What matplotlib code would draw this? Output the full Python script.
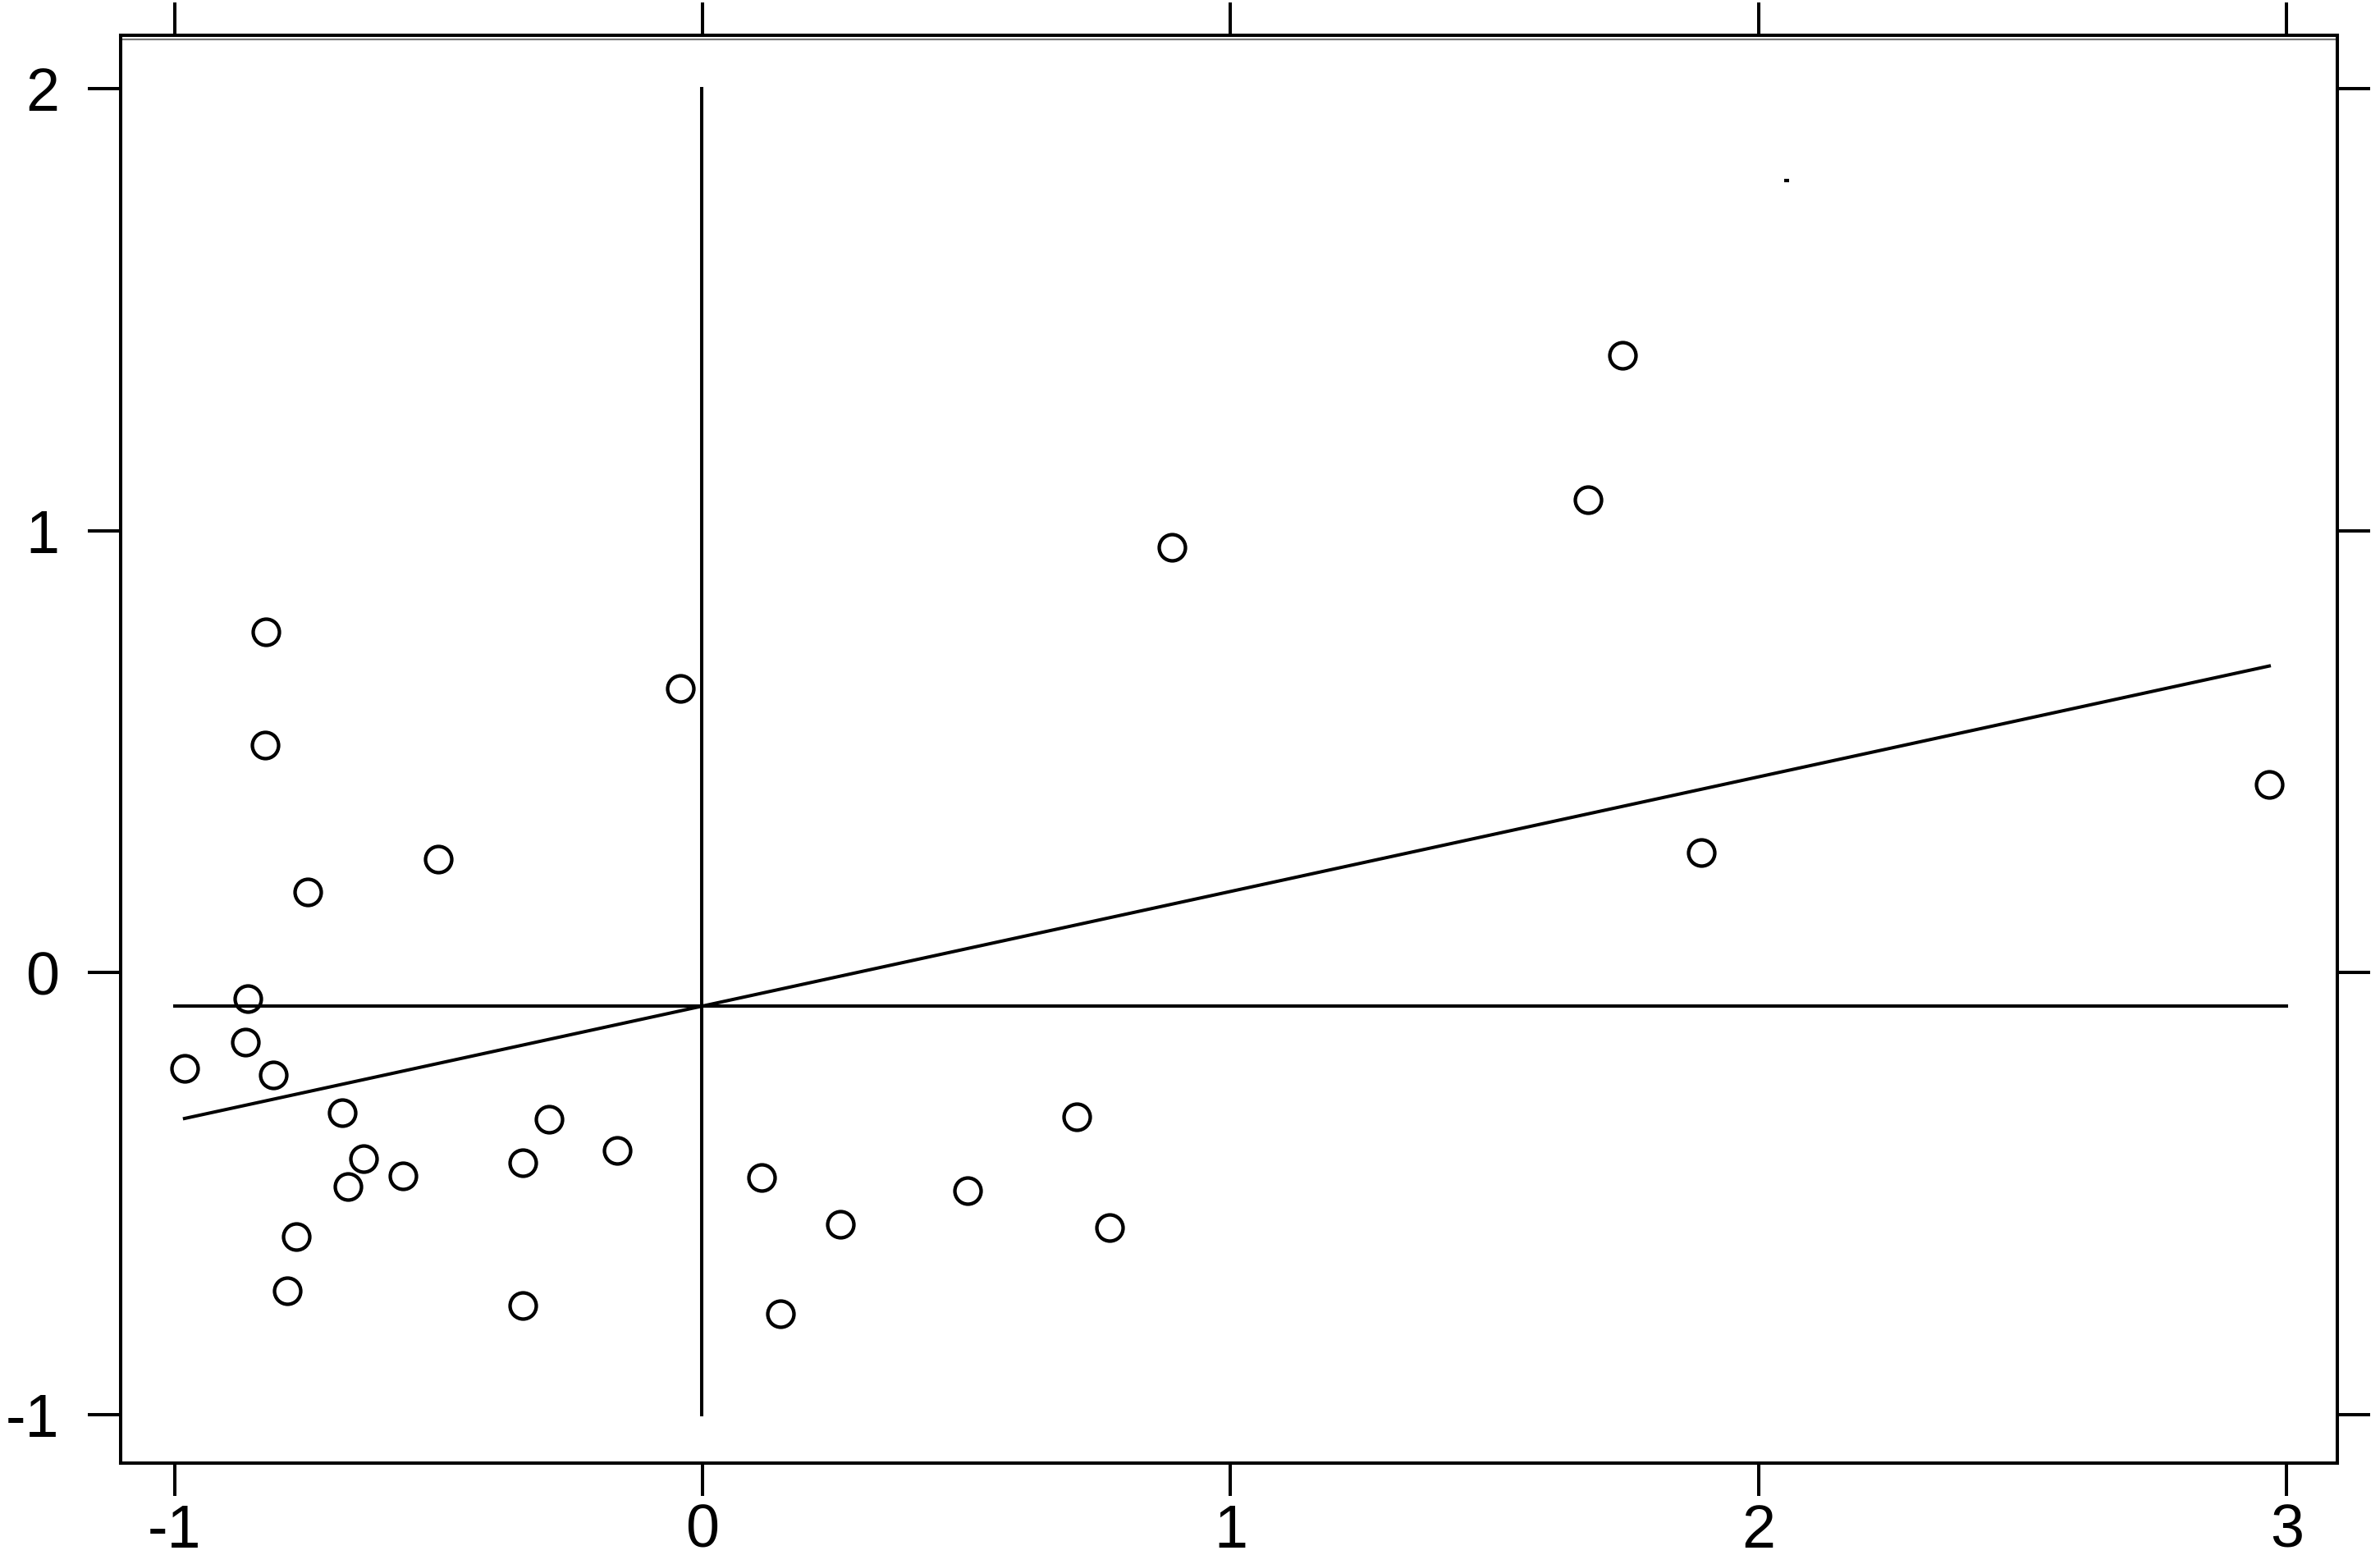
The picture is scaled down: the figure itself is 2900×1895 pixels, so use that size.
import numpy as np
import matplotlib
matplotlib.use("Agg")
import matplotlib.pyplot as plt

plt.rcParams['font.family'] = ['Liberation Sans', 'DejaVu Sans']

# standardized variable (x) against its spatial lag (y)
x_vals = np.array([-0.827, -0.828, -0.500, -0.747, -0.861, -0.866, -0.981, -0.813,
                   -0.682, -0.642, -0.568, -0.672, -0.769, -0.786, -0.340, -0.340,
                   -0.291, -0.162, 0.112, 0.261, 0.148, 0.709, 0.502, 0.771,
                   1.743, 1.677, 0.889, -0.042, 1.892, 2.967])
y_vals = np.array([0.771, 0.515, 0.257, 0.183, -0.059, -0.157, -0.216, -0.231,
                   -0.317, -0.421, -0.460, -0.484, -0.597, -0.720, -0.430, -0.753,
                   -0.332, -0.402, -0.463, -0.569, -0.772, -0.326, -0.493, -0.577,
                   1.397, 1.070, 0.962, 0.642, 0.272, 0.426])
# tiny speck in the upper right of the original
stray_x = [2.053]
stray_y = [1.792]

x_ticks = [-1, 0, 1, 2, 3]
y_ticks = [-1, 0, 1, 2]

fig = plt.figure(figsize=(29, 18.95), dpi=100)
ax = fig.add_axes([0.05069, 0.05910, 0.93138, 0.91821])

lw = 2.9
# mean lines
ax.plot([x_vals.mean(), x_vals.mean()], [y_ticks[0], y_ticks[-1]], color='black', lw=lw)
ax.plot([x_ticks[0], x_ticks[-1]], [y_vals.mean(), y_vals.mean()], color='black', lw=lw)
# least squares line
slope, icpt = np.polyfit(x_vals, y_vals, 1)
xr = np.array([x_vals.min(), x_vals.max()])
ax.plot(xr, icpt + slope * xr, color='black', lw=lw)

ax.plot(x_vals, y_vals, 'o', mfc='none', mec='black', ms=23, mew=3.1, zorder=3)
ax.plot(stray_x, stray_y, '_', color='black', ms=4, mew=3)

# thin grey rule just under the top border
ax.plot([0, 1], [0.9972, 0.9972], transform=ax.transAxes, color='#777777', lw=1.6,
        clip_on=False)

ax.set_xlim(-1.102, 3.096)
ax.set_ylim(-1.110, 2.121)
ax.set_xticks(x_ticks)
ax.set_yticks(y_ticks)
ax.set_xticklabels([str(t) for t in x_ticks])
ax.set_yticklabels([str(t) for t in y_ticks])

for s in ax.spines.values():
    s.set_linewidth(2.9)
ax.tick_params(axis='both', which='major', direction='out', length=29, width=2.9,
               labelsize=53, top=True, right=True)
ax.tick_params(axis='x', pad=6)
ax.tick_params(axis='y', pad=25)

fig.savefig('out.png', dpi=100)
